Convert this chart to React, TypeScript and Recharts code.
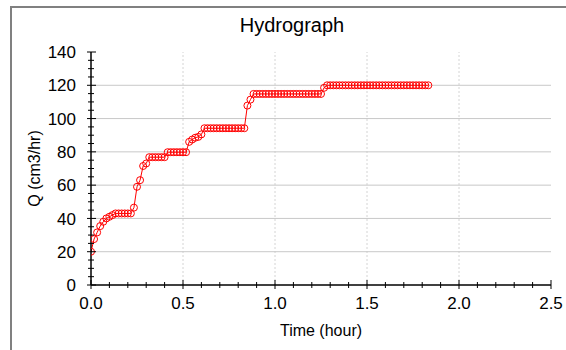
import React from 'react';
import { LineChart, Line, XAxis, YAxis, ReferenceLine } from 'recharts';

// Flow values (cm3/hr) sampled once per minute, starting at t = 0
const TIME_STEP_HOURS = 1 / 60;
const Q_VALUES = [
  20, 27.6, 31.6, 35.4, 38, 40, 41, 42,
  43, 43, 43, 43, 43, 43,
  46.5, 59, 63, 71.5, 73,
  76.8, 76.8, 76.8, 76.8, 76.8, 76.8,
  79.8, 79.8, 79.8, 79.8, 79.8, 79.8, 79.8,
  86, 87.4, 88.5, 89, 90.5,
  94.2, 94.2, 94.2, 94.2, 94.2, 94.2, 94.2, 94.2, 94.2, 94.2, 94.2, 94.2, 94.2, 94.2,
  107.8, 111.4,
  114.8, 114.8, 114.8, 114.8, 114.8, 114.8, 114.8, 114.8, 114.8, 114.8, 114.8, 114.8,
  114.8, 114.8, 114.8, 114.8, 114.8, 114.8, 114.8, 114.8, 114.8, 114.8, 114.8,
  118.5,
  120, 120, 120, 120, 120, 120, 120, 120, 120, 120, 120, 120, 120, 120, 120, 120, 120,
  120, 120, 120, 120, 120, 120, 120, 120, 120, 120, 120, 120, 120, 120, 120, 120, 120,
];

const X_TICKS = [0, 0.1, 0.2, 0.3, 0.4, 0.5, 0.6, 0.7, 0.8, 0.9, 1.0, 1.1, 1.2, 1.3, 1.4, 1.5, 1.6, 1.7, 1.8, 1.9, 2.0, 2.1, 2.2, 2.3, 2.4, 2.5];
const X_MAJOR = [0, 0.5, 1.0, 1.5, 2.0, 2.5];
const Y_TICKS = [0, 5, 10, 15, 20, 25, 30, 35, 40, 45, 50, 55, 60, 65, 70, 75, 80, 85, 90, 95, 100, 105, 110, 115, 120, 125, 130, 135, 140];
const Y_MAJOR = [0, 20, 40, 60, 80, 100, 120, 140];

const TITLE = 'Hydrograph';
const X_LABEL = 'Time (hour)';
const Y_LABEL = 'Q (cm3/hr)';

const FONT = '"Liberation Sans", Arial, sans-serif';
const RED = '#ff0000';

const data = Q_VALUES.map((q, i) => ({ t: i * TIME_STEP_HOURS, q }));

const isMajor = (list: number[], v: number) => list.some((m) => Math.abs(m - v) < 1e-9);

const BottomTick = (props: any) => {
  const { x, y, payload } = props;
  const major = isMajor(X_MAJOR, payload.value);
  return (
    <g>
      <line x1={x} x2={x} y1={y - (major ? 5 : 3)} y2={y + (major ? 4 : 3)} stroke="#000" strokeWidth={1} />
      {major && (
        <text x={x} y={y + 24} textAnchor="middle" fontSize={17} fontFamily={FONT} fill="#000">
          {Number(payload.value).toFixed(1)}
        </text>
      )}
    </g>
  );
};

const TopTick = (props: any) => {
  const { x, y, payload } = props;
  const major = isMajor(X_MAJOR, payload.value);
  return <line x1={x} x2={x} y1={y} y2={y + (major ? 6 : 3)} stroke="#000" strokeWidth={1} />;
};

const LeftTick = (props: any) => {
  const { x, y, payload } = props;
  const major = isMajor(Y_MAJOR, payload.value);
  return (
    <g>
      <line x1={x - (major ? 4 : 3)} x2={x + (major ? 5 : 3)} y1={y} y2={y} stroke="#000" strokeWidth={1} />
      {major && (
        <text x={x - 15} y={y} dy="0.36em" textAnchor="end" fontSize={17} fontFamily={FONT} fill="#000">
          {payload.value}
        </text>
      )}
    </g>
  );
};

const RightTick = (props: any) => {
  const { x, y, payload } = props;
  const major = isMajor(Y_MAJOR, payload.value);
  return <line x1={x - (major ? 6 : 3)} x2={x} y1={y} y2={y} stroke="#000" strokeWidth={1} />;
};

export default function App() {
  return (
    <div style={{ position: 'absolute', left: 0, top: 0, width: 566, height: 350, background: '#fff', fontFamily: FONT }}>
      <div
        style={{
          position: 'absolute',
          left: 10,
          top: 6,
          width: 556,
          height: 344,
          borderTop: '2px solid #808080',
          borderLeft: '2px solid #808080',
          boxSizing: 'border-box',
        }}
      />
      <div
        style={{
          position: 'absolute',
          left: 0,
          width: 584,
          top: 13,
          textAlign: 'center',
          fontSize: 20,
          lineHeight: '24px',
          color: '#000',
          fontFamily: FONT,
        }}
      >
        {TITLE}
      </div>
      <div style={{ position: 'absolute', left: 0, top: 0 }}>
        <LineChart width={566} height={350} data={data} margin={{ top: 52, right: 15, bottom: 0, left: 0 }}>
          {X_MAJOR.filter((v) => v > 0 && v < 2.5).map((v) => (
            <ReferenceLine key={'vx' + v} x={v} stroke="#d4d4d4" strokeDasharray="2 2" strokeWidth={1} />
          ))}
          {Y_MAJOR.filter((v) => v > 0 && v < 140).map((v) => (
            <ReferenceLine key={'hy' + v} y={v} stroke="#c8c8c8" strokeWidth={1} />
          ))}
          <XAxis
            dataKey="t"
            type="number"
            domain={[0, 2.5]}
            ticks={X_TICKS}
            interval={0}
            height={65}
            tickSize={0}
            tickMargin={0}
            tickLine={false}
            axisLine={{ stroke: '#000', strokeWidth: 1.5 }}
            tick={<BottomTick />}
            allowDataOverflow
            label={{ value: X_LABEL, position: 'insideBottom', offset: 14, fontSize: 16, fill: '#000', fontFamily: FONT }}
          />
          <XAxis
            xAxisId="top"
            orientation="top"
            dataKey="t"
            type="number"
            domain={[0, 2.5]}
            ticks={X_TICKS}
            interval={0}
            height={0}
            tickSize={0}
            tickMargin={0}
            tickLine={false}
            axisLine={{ stroke: '#000', strokeWidth: 1.5 }}
            tick={<TopTick />}
            allowDataOverflow
          />
          <YAxis
            type="number"
            domain={[0, 140]}
            ticks={Y_TICKS}
            interval={0}
            width={91}
            tickSize={0}
            tickMargin={0}
            tickLine={false}
            axisLine={{ stroke: '#000', strokeWidth: 1.5 }}
            tick={<LeftTick />}
            allowDataOverflow
            label={{
              value: Y_LABEL,
              angle: -90,
              position: 'insideLeft',
              offset: 34,
              fontSize: 16,
              fill: '#000',
              fontFamily: FONT,
              style: { textAnchor: 'middle' },
            }}
          />
          <YAxis
            yAxisId="right"
            orientation="right"
            type="number"
            domain={[0, 140]}
            ticks={Y_TICKS}
            interval={0}
            width={0}
            tickSize={0}
            tickMargin={0}
            tickLine={false}
            axisLine={{ stroke: '#000', strokeWidth: 1.5 }}
            tick={<RightTick />}
            allowDataOverflow
          />
          <Line
            type="linear"
            dataKey="q"
            stroke={RED}
            strokeWidth={1}
            dot={{ r: 3.5, stroke: RED, strokeWidth: 1, fill: 'none' }}
            activeDot={false}
            isAnimationActive={false}
          />
        </LineChart>
      </div>
    </div>
  );
}
